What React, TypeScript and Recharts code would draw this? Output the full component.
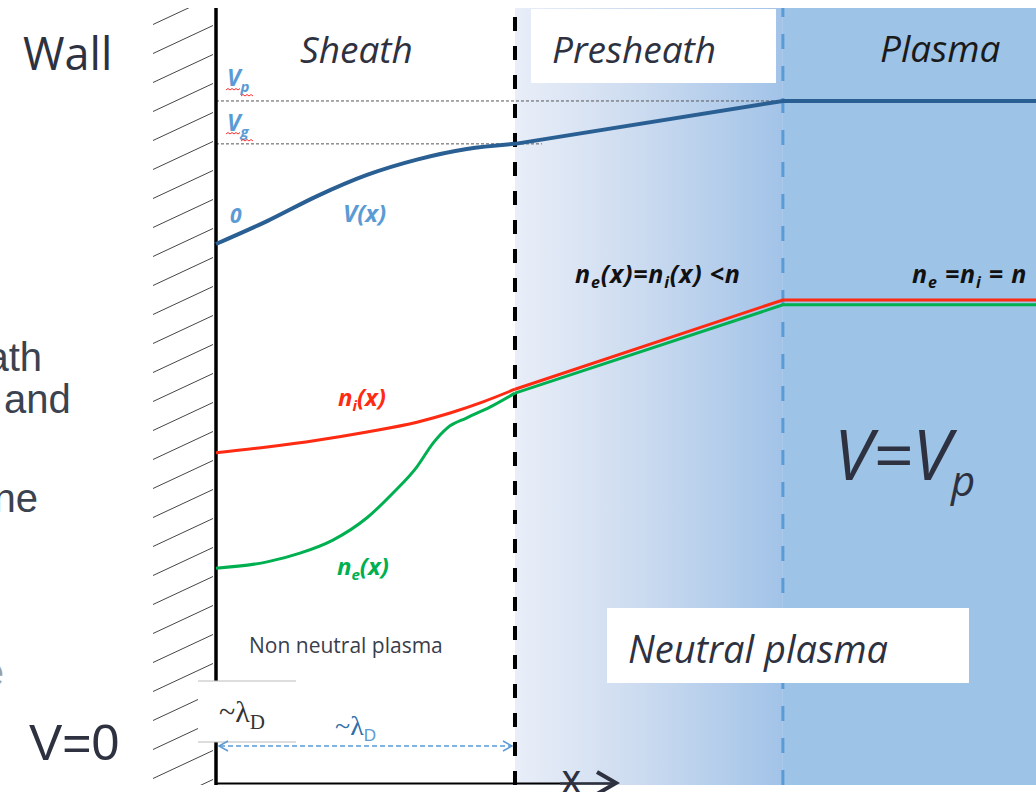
import { ComposedChart, Line, XAxis, YAxis, ReferenceArea, ReferenceLine } from 'recharts';

// x = distance from the wall in sheath widths (~λD): 0 = wall, 1 = sheath edge
const X_MIN = -0.7224;
const X_MAX = 2.7425;
const SHEATH_EDGE = 1;
const PRESHEATH_EDGE = 1.896;

// potential normalised to V_p, densities normalised to n
const V_DOMAIN = [-3.783, 1.65];
const N_DOMAIN = [0, 1.602];
const VG = 0.7;
const VP = 1;

const vSheathX = [0, 0.171, 0.338, 0.505, 0.672, 0.839, 1.0];
const vSheathY = [0, 0.16, 0.335, 0.483, 0.59, 0.664, 0.7];
const vOuterX = [1.0, 1.896, 2.7425];
const vOuterY = [0.7, 1, 1];

const niSheathX = [0, 0.171, 0.338, 0.505, 0.672, 0.783, 0.893, 1.0];
const niSheathY = [0.685, 0.697, 0.711, 0.728, 0.748, 0.767, 0.79, 0.816];
const niOuterX = [1.0, 1.896, 2.7425];
const niOuterY = [0.816, 1, 1];

const neSheathX = [0, 0.171, 0.281, 0.391, 0.505, 0.592, 0.672, 0.726, 0.773, 0.839, 0.916, 1.0];
const neSheathY = [0.447, 0.46, 0.478, 0.505, 0.551, 0.602, 0.656, 0.705, 0.736, 0.757, 0.779, 0.808];
const neOuterX = [1.0, 1.896, 2.7425];
const neOuterY = [0.808, 0.99, 0.99];

const pts = (xs: number[], ys: number[]) => xs.map((x, i) => ({ x, y: ys[i] }));

const DARK = '#2e3140';
const BLUE = '#5b9bd5';
const RED = '#ff2a12';
const GREEN = '#00b050';
const SANS = '"Open Sans", sans-serif';
const ARIAL = '"Liberation Sans", Arial, sans-serif';
const SERIF = '"Liberation Serif", "Times New Roman", serif';

function Squiggle({ x1, x2, y }: { x1: number; x2: number; y: number }) {
  let d = `M${x1},${y}`;
  let up = true;
  for (let x = x1 + 2; x <= x2; x += 2) {
    d += ` L${x},${up ? y - 1.5 : y}`;
    up = !up;
  }
  return <path d={d} fill="none" stroke="#ff3030" strokeWidth={1} />;
}

export default function App() {
  return (
    <div style={{ position: 'absolute', left: 0, top: 0, width: 1036, height: 792, background: '#fff' }}>
      <svg width={0} height={0} style={{ position: 'absolute' }}>
        <defs>
          <linearGradient id="presheathGrad" x1="0" y1="0" x2="1" y2="0">
            <stop offset="0%" stopColor="#e9eef8" />
            <stop offset="45%" stopColor="#cddcf0" />
            <stop offset="100%" stopColor="#a2c3e8" />
          </linearGradient>
          <pattern id="hatch" patternUnits="userSpaceOnUse" x={150} y={25} width={70} height={29}>
            <line x1={3} y1={28.5} x2={63} y2={0.5} stroke="#444" strokeWidth={1} />
          </pattern>
        </defs>
      </svg>
      <ComposedChart width={1036} height={792} margin={{ top: 8, right: 0, bottom: 7, left: 0 }}>
        <XAxis type="number" dataKey="x" domain={[X_MIN, X_MAX]} hide allowDataOverflow />
        <YAxis yAxisId="v" type="number" domain={V_DOMAIN} hide allowDataOverflow />
        <YAxis yAxisId="n" type="number" domain={N_DOMAIN} hide allowDataOverflow />

        <ReferenceArea yAxisId="n" x1={-0.2207} x2={-0.0067} y1={N_DOMAIN[0]} y2={N_DOMAIN[1]} fill="url(#hatch)" fillOpacity={1} stroke="none" />
        <ReferenceArea yAxisId="n" x1={SHEATH_EDGE} x2={PRESHEATH_EDGE} y1={N_DOMAIN[0]} y2={N_DOMAIN[1]} fill="url(#presheathGrad)" fillOpacity={1} stroke="none" />
        <ReferenceArea yAxisId="n" x1={PRESHEATH_EDGE} x2={X_MAX} y1={N_DOMAIN[0]} y2={N_DOMAIN[1]} fill="#9dc3e6" fillOpacity={1} stroke="none" />

        <ReferenceLine yAxisId="v" segment={[{ x: 0, y: VP }, { x: X_MAX, y: VP }]} stroke="#555" strokeDasharray="3 2" strokeWidth={1} />
        <ReferenceLine yAxisId="v" segment={[{ x: 0, y: VG }, { x: 1.09, y: VG }]} stroke="#555" strokeDasharray="3 2" strokeWidth={1} />
        <ReferenceLine yAxisId="n" x={0} stroke="#000" strokeWidth={3.5} />
        <ReferenceLine yAxisId="n" x={SHEATH_EDGE} stroke="#000" strokeWidth={4} strokeDasharray="14 15" />
        <ReferenceLine yAxisId="n" x={PRESHEATH_EDGE} stroke={BLUE} strokeWidth={3} strokeDasharray="15 17" />
        <ReferenceLine yAxisId="n" segment={[{ x: 0, y: 0.003 }, { x: 1.33, y: 0.003 }]} stroke="#000" strokeWidth={2} />

        <Line yAxisId="v" data={pts(vSheathX, vSheathY)} dataKey="y" type="monotone" stroke="#2a5f93" strokeWidth={4} dot={false} activeDot={false} isAnimationActive={false} />
        <Line yAxisId="v" data={pts(vOuterX, vOuterY)} dataKey="y" type="linear" stroke="#2a5f93" strokeWidth={4} dot={false} activeDot={false} isAnimationActive={false} />
        <Line yAxisId="n" data={pts(neSheathX, neSheathY)} dataKey="y" type="monotone" stroke={GREEN} strokeWidth={3} dot={false} activeDot={false} isAnimationActive={false} />
        <Line yAxisId="n" data={pts(neOuterX, neOuterY)} dataKey="y" type="linear" stroke={GREEN} strokeWidth={3} dot={false} activeDot={false} isAnimationActive={false} />
        <Line yAxisId="n" data={pts(niSheathX, niSheathY)} dataKey="y" type="monotone" stroke={RED} strokeWidth={3} dot={false} activeDot={false} isAnimationActive={false} />
        <Line yAxisId="n" data={pts(niOuterX, niOuterY)} dataKey="y" type="linear" stroke={RED} strokeWidth={3} dot={false} activeDot={false} isAnimationActive={false} />
      </ComposedChart>

      <svg width={1036} height={792} style={{ position: 'absolute', left: 0, top: 0, pointerEvents: 'none' }}>
        {/* left slide text, cut off by the crop */}
        <text x={23} y={70} fontFamily={SANS} fontSize={45} fill={DARK}>Wall</text>
        <text x={42} y={371} textAnchor="end" fontFamily={ARIAL} fontSize={40} fill="#3b4250">ath</text>
        <text x={4} y={413} fontFamily={ARIAL} fontSize={40} fill="#3b4250">and</text>
        <text x={38} y={512} textAnchor="end" fontFamily={ARIAL} fontSize={40} fill="#3b4250">ne</text>
        <text x={4} y={686} textAnchor="end" fontFamily={ARIAL} fontSize={40} fill="#9aa0a8">e</text>
        <text x={29} y={760} fontFamily={ARIAL} fontSize={50} fill={DARK}>V=0</text>

        {/* region titles */}
        <text x={300} y={63} fontFamily={SANS} fontStyle="italic" fontSize={37} fill={DARK}>Sheath</text>
        <rect x={531} y={9} width={245} height={74} fill="#fff" />
        <text x={552} y={63} fontFamily={SANS} fontStyle="italic" fontSize={37} fill={DARK}>Presheath</text>
        <text x={880} y={62} fontFamily={SANS} fontStyle="italic" fontSize={37} fill="#1a1a1a">Plasma</text>

        {/* potential labels */}
        <text x={227} y={86} fontFamily={SANS} fontStyle="italic" fontWeight={700} fontSize={23} fill={BLUE}>
          V<tspan fontSize={15} dy={6}>p</tspan>
        </text>
        <Squiggle x1={226} x2={240} y={90} />
        <Squiggle x1={241} x2={253} y={96} />
        <text x={227} y={131} fontFamily={SANS} fontStyle="italic" fontWeight={700} fontSize={23} fill={BLUE}>
          V<tspan fontSize={15} dy={6}>g</tspan>
        </text>
        <Squiggle x1={226} x2={240} y={134} />
        <Squiggle x1={241} x2={253} y={141} />
        <text x={230} y={223} fontFamily={SANS} fontStyle="italic" fontWeight={700} fontSize={21} fill={BLUE}>0</text>
        <text x={343} y={222} fontFamily={SANS} fontStyle="italic" fontWeight={700} fontSize={24} fill={BLUE}>V(x)</text>

        {/* density labels */}
        <text x={338} y={406} fontFamily={SANS} fontStyle="italic" fontWeight={700} fontSize={24} fill={RED}>
          n<tspan fontSize={15} dy={5}>i</tspan><tspan dy={-5}>(x)</tspan>
        </text>
        <text x={337} y={575} fontFamily={SANS} fontStyle="italic" fontWeight={700} fontSize={24} fill={GREEN}>
          n<tspan fontSize={15} dy={5}>e</tspan><tspan dy={-5}>(x)</tspan>
        </text>
        <text x={575} y={283} fontFamily={SANS} fontStyle="italic" fontWeight={700} fontSize={25} letterSpacing={0.8} fill="#111">
          n<tspan fontSize={16} dy={5}>e</tspan><tspan dy={-5}>(x)=n</tspan><tspan fontSize={16} dy={5}>i</tspan><tspan dy={-5}>(x) &lt;n</tspan>
        </text>
        <text x={912} y={283} fontFamily={SANS} fontStyle="italic" fontWeight={700} fontSize={25} letterSpacing={0.8} fill="#111">
          n<tspan fontSize={16} dy={5}>e</tspan><tspan dy={-5}> =n</tspan><tspan fontSize={16} dy={5}>i</tspan><tspan dy={-5}> = n</tspan>
        </text>

        <text x={834} y={480} fontFamily={SANS} fontStyle="italic" fontSize={70} fill={DARK}>
          V=V<tspan fontSize={42} dy={16}>p</tspan>
        </text>

        {/* bottom annotations */}
        <text x={249} y={653} fontFamily={SANS} fontSize={21} fill="#3a3d4a">Non neutral plasma</text>
        <rect x={607} y={608} width={362} height={75} fill="#fff" />
        <text x={628} y={663} fontFamily={SANS} fontStyle="italic" fontSize={38} fill={DARK}>Neutral plasma</text>

        <rect x={198} y={681} width={98} height={61} fill="#fff" />
        <line x1={198} y1={681} x2={296} y2={681} stroke="#bbb" strokeWidth={1} />
        <line x1={198} y1={742} x2={296} y2={742} stroke="#bbb" strokeWidth={1} />
        <text x={219} y={722} fontFamily={SERIF} fontSize={30} fill="#333">
          ~λ<tspan fontSize={21} dy={7}>D</tspan>
        </text>

        <text x={335} y={735} fontFamily={SERIF} fontSize={28} fill="#2f6ea8">
          ~λ<tspan fontSize={17} dy={6} fill={BLUE} fontFamily={ARIAL}>D</tspan>
        </text>
        <line x1={220} y1={746} x2={511} y2={746} stroke={BLUE} strokeWidth={1.5} strokeDasharray="5 3" />
        <polyline points="228,741 219,746 228,751" fill="none" stroke={BLUE} strokeWidth={1.5} />
        <polyline points="503,741 512,746 503,751" fill="none" stroke={BLUE} strokeWidth={1.5} />

        <text x={562} y={793} fontFamily={SANS} fontWeight={600} fontSize={30} fill={DARK}>X</text>
        <line x1={560} y1={783.5} x2={615} y2={783.5} stroke={DARK} strokeWidth={2} />
        <polyline points="597,772 616,783 597,794" fill="none" stroke={DARK} strokeWidth={4} />
      </svg>
    </div>
  );
}
